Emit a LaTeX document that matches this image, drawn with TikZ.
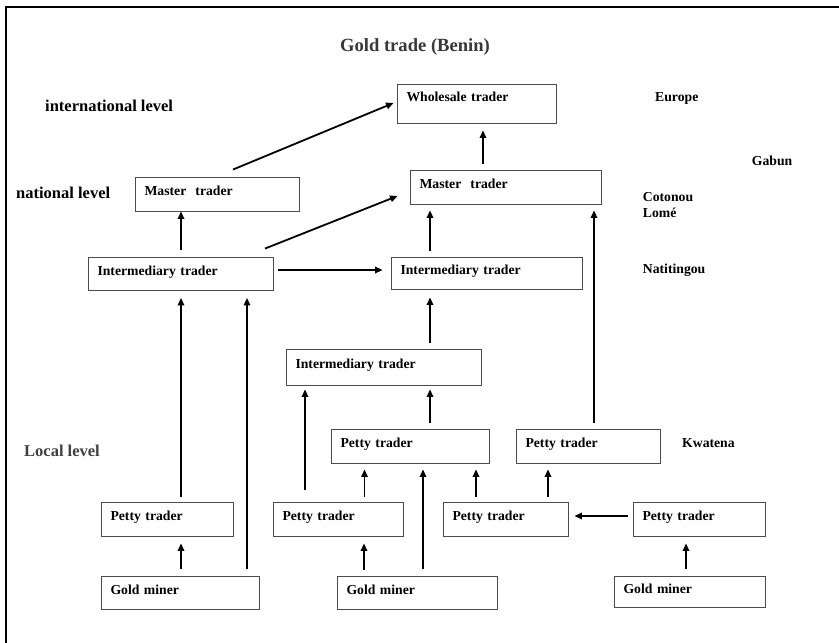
\documentclass[tikz,border=0pt]{standalone}
\usepackage{fontspec}
\setmainfont{Liberation Serif}
\usetikzlibrary{arrows.meta}
\begin{document}
\begin{tikzpicture}[x=1pt,y=-1pt,
  box/.style={draw=black!70, line width=0.9pt, rectangle, inner xsep=9.5pt, inner ysep=0pt,
    align=left, font=\bfseries\fontsize{13.7}{16}\selectfont, text height=9pt, text depth=5.5pt},
  lbl/.style={anchor=west, inner sep=0pt, font=\bfseries\fontsize{13.7}{16}\selectfont,
    text height=9pt, text depth=0pt},
  lvl/.style={anchor=west, inner sep=0pt, font=\bfseries\fontsize{16.5}{19}\selectfont,
    text height=10.9pt, text depth=0pt},
  arr/.style={line width=1.8pt, -{Triangle[length=7.5pt,width=6.5pt]}, shorten <=6pt, shorten >=6pt}]
\useasboundingbox (0,0) rectangle (839,643);
% frame
\draw[line width=2pt] (6,643) -- (6,6.5) -- (839,6.5);
% titles and labels
\node[anchor=center, inner sep=0pt, text=black!78, font=\bfseries\fontsize{18.6}{22}\selectfont] (title) at (415,47) {Gold trade (Benin)};
\node[lvl] (intl) at (45,106) {international level};
\node[lvl] (natl) at (16,193) {national level};
\node[lvl, text=black!75] (locl) at (24,450.7) {Local level};
\node[lbl] (eur) at (655,97.3) {Europe};
\node[lbl] (gab) at (751.7,161.3) {Gabun};
\node[lbl] (cot) at (642.7,196.7) {Cotonou};
\node[lbl] (lome) at (642.7,213.3) {Lomé};
\node[lbl] (nat) at (642.7,269.3) {Natitingou};
\node[lbl] (kwa) at (682,442.7) {Kwatena};
% boxes
\node[box, minimum width=159pt, text width=140pt, minimum height=39pt, text depth=13pt] (ws) at (476.5,103.5) {Wholesale trader};
\node[box, minimum width=164pt, text width=145pt, minimum height=34pt] (mL) at (217,194) {Master~ trader};
\node[box, minimum width=191pt, text width=172pt, minimum height=34pt] (mC) at (505.5,187) {Master~ trader};
\node[box, minimum width=185pt, text width=166pt, minimum height=33pt] (iL) at (180.5,273.5) {Intermediary trader};
\node[box, minimum width=191pt, text width=172pt, minimum height=32pt] (iC) at (486.5,273) {Intermediary trader};
\node[box, minimum width=195pt, text width=176pt, minimum height=36pt, text depth=6.5pt] (iM) at (383.5,367) {Intermediary trader};
\node[box, minimum width=158pt, text width=139pt, minimum height=34pt] (pMU) at (410,446) {Petty trader};
\node[box, minimum width=144pt, text width=125pt, minimum height=34pt] (pRU) at (588,446) {Petty trader};
\node[box, minimum width=132pt, text width=113pt, minimum height=34pt] (pL) at (167,519) {Petty trader};
\node[box, minimum width=130pt, text width=111pt, minimum height=34pt] (pML) at (338,519) {Petty trader};
\node[box, minimum width=125pt, text width=106pt, minimum height=34pt] (pMR) at (505.5,519) {Petty trader};
\node[box, minimum width=132pt, text width=113pt, minimum height=34pt] (pR) at (699,519) {Petty trader};
\node[box, minimum width=158pt, text width=139pt, minimum height=33pt] (gL) at (180,592.5) {Gold miner};
\node[box, minimum width=160pt, text width=141pt, minimum height=33pt] (gM) at (417,592.5) {Gold miner};
\node[box, minimum width=151pt, text width=132pt, minimum height=31pt] (gR) at (689.5,591.5) {Gold miner};
% diagonal and horizontal arrows
\draw[arr, shorten <=0pt, shorten >=0pt] ([xshift=16pt,yshift=7pt]mL.north) -- ([xshift=-3pt,yshift=0.5pt]ws.west);
\draw[arr, shorten <=0pt, shorten >=0pt] ([xshift=84.5pt,yshift=8pt]iL.north) -- ([xshift=-12pt,yshift=-9pt]mC.west);
\draw[arr, shorten <=5pt, shorten >=8pt] ([yshift=3.5pt]iL.east) -- ([yshift=3.5pt]iL.east -| iC.west);
\draw[arr, shorten <=5pt, shorten >=6pt] ([yshift=3pt]pR.west) -- ([yshift=3pt]pR.west -| pMR.east);
% vertical arrows
\draw[arr, shorten <=6.5pt, shorten >=0pt] ([xshift=0.5pt]iL.north) -- ([xshift=0.5pt]iL.north |- mL.south);
\draw[arr, shorten >=7pt] ([xshift=-22.5pt]mC.north) -- ([xshift=-22.5pt]mC.north |- ws.south);
\draw[arr] ([xshift=-56.5pt]iC.north) -- ([xshift=-56.5pt]iC.north |- mC.south);
\draw[arr] ([xshift=6pt]pRU.north) -- ([xshift=6pt]pRU.north |- mC.south);
\draw[arr, shorten >=8pt] ([xshift=46.5pt]iM.north) -- ([xshift=46.5pt]iM.north |- iC.south);
\draw[arr, shorten <=5pt, shorten >=7.5pt] ([xshift=14pt]pL.north) -- ([xshift=14pt]pL.north |- iL.south);
\draw[arr, shorten <=7pt, shorten >=7.5pt] ([xshift=67pt]gL.north) -- ([xshift=67pt]gL.north |- iL.south);
\draw[arr, shorten <=7pt, shorten >=7pt] ([xshift=1pt]gL.north) -- ([xshift=1pt]gL.north |- pL.south);
\draw[arr, shorten <=12pt, shorten >=4pt] ([xshift=-33pt]pML.north) -- ([xshift=-33pt]pML.north |- iM.south);
\draw[arr, shorten <=5pt] ([xshift=26.5pt]pML.north) -- ([xshift=26.5pt]pML.north |- pMU.south);
\draw[arr, shorten >=7pt] ([xshift=-53pt]gM.north) -- ([xshift=-53pt]gM.north |- pML.south);
\draw[arr, shorten <=7pt] ([xshift=6pt]gM.north) -- ([xshift=6pt]gM.north |- pMU.south);
\draw[arr, shorten >=4pt] ([xshift=20pt]pMU.north) -- ([xshift=20pt]pMU.north |- iM.south);
\draw[arr, shorten <=5pt] ([xshift=-29.5pt]pMR.north) -- ([xshift=-29.5pt]pMR.north |- pMU.south);
\draw[arr, shorten <=5pt] ([xshift=42.5pt]pMR.north) -- ([xshift=42.5pt]pMR.north |- pRU.south);
\draw[arr, shorten <=7pt, shorten >=7pt] ([xshift=-3.5pt]gR.north) -- ([xshift=-3.5pt]gR.north |- pR.south);
\end{tikzpicture}
\end{document}
